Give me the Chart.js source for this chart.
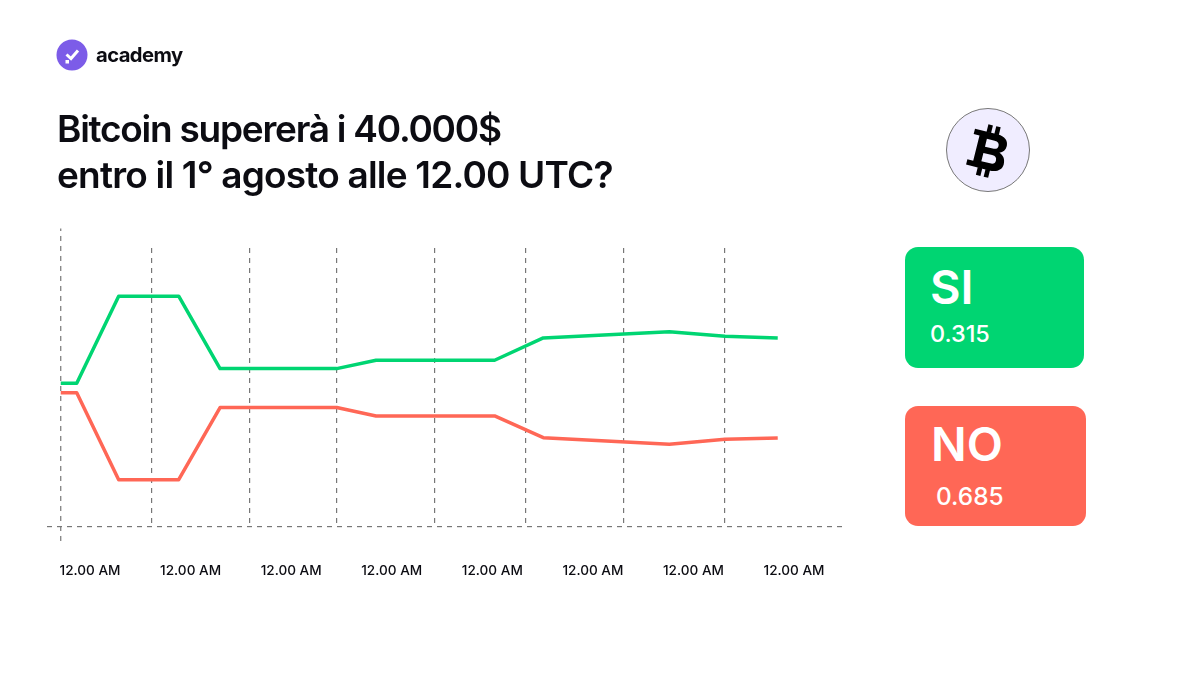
<!DOCTYPE html>
<html lang="it"><head><meta charset="utf-8">
<script src="https://cdn.jsdelivr.net/npm/chart.js@4"></script>
<style>
html,body{margin:0;padding:0;background:#fff;width:1200px;height:675px;overflow:hidden;font-family:Inter,sans-serif;color:#0c0c12}
#c{position:absolute;left:0;top:0;width:1200px;height:675px}
.abs{position:absolute;white-space:nowrap}
h1{margin:0;left:57px;top:106px;font-size:37px;line-height:46px;font-weight:600;letter-spacing:-.8px}
h1 span{letter-spacing:-1.25px}
.brand{left:96px;top:41px;font-size:20.2px;line-height:28px;font-weight:700;letter-spacing:-.55px}
.card{border-radius:13px;color:#fff}
.big{font-weight:600;line-height:1}
.small{font-weight:500;line-height:1}
.coin{left:946px;top:108px;width:82px;height:82px;border:1px solid #777;border-radius:50%;background:#f0edff}
</style></head><body>
<canvas id="c" width="1200" height="675"></canvas>
<svg class="abs" style="left:56px;top:39px" width="32" height="32" viewBox="0 0 32 32"><circle cx="16" cy="16" r="15.5" fill="#7c5ce8"/><path d="M10.5 15.5l4.5 4 7-8" fill="none" stroke="#fff" stroke-width="3"/><rect x="9.5" y="21" width="3.5" height="3.5" fill="#fff"/></svg>
<div class="abs brand">academy</div>
<h1 class="abs"><span>Bitcoin supererà i 40.000$</span><br>entro il 1° agosto alle 12.00 UTC?</h1>
<div class="abs coin"></div>
<svg class="abs" style="left:948px;top:111px" width="80" height="80" viewBox="-40 -40 80 80"><g transform="rotate(14)"><path fill="#000" fill-rule="evenodd" d="M-18,-18.5 H5 C13,-18.5 17,-14.5 17,-9.5 C17,-5.5 15,-2.5 11.5,-1 C16,0.5 18.5,4 18.5,9 C18.5,15 13.5,18.5 6,18.5 H-18 V13 H-12 V-13 H-18 Z M-4,-11.5 V-3.5 H4 C7.5,-3.5 9,-5 9,-7.5 C9,-10 7.5,-11.5 4,-11.5 Z M-4,3 V11.5 H5 C8.5,11.5 10,10 10,7.2 C10,4.5 8.5,3 5,3 Z"/><rect x="-6" y="-26" width="4.6" height="8"/><rect x="2" y="-26" width="4.6" height="8"/><rect x="-6" y="18" width="4.6" height="8"/><rect x="2" y="18" width="4.6" height="8"/></g></svg>
<div class="abs card" style="left:905px;top:247px;width:179px;height:121px;background:#00d572"></div>
<div class="abs big" style="left:930px;top:263px;font-size:47px;color:#fff">SI</div>
<div class="abs small" style="left:930px;top:322px;font-size:23.4px;color:#fff">0.315</div>
<div class="abs card" style="left:905px;top:406px;width:181px;height:120px;background:#ff6756"></div>
<div class="abs big" style="left:931px;top:420px;font-size:47px;color:#fff">NO</div>
<div class="abs small" style="left:936px;top:484px;font-size:24.4px;color:#fff">0.685</div>
<script>
const tickLabels = ['12.00 AM','12.00 AM','12.00 AM','12.00 AM','12.00 AM','12.00 AM','12.00 AM','12.00 AM'];
const labelDays = [0,1,2,3,4,5,6,7];
const gridDays = [0.616,1.591,2.453,3.430,4.335,5.307,6.314];
const startDay = [-0.291];
const axisEnds = [-0.052,1.07];
const pointDays = [-0.291,-0.132,0.285,0.882,1.293,2.453,2.844,4.023,4.507,5.760,6.314,6.838];
const siValues = [0.514,0.514,0.827,0.827,0.567,0.567,0.597,0.597,0.677,0.699,0.683,0.677];
const noValues = [0.480,0.480,0.168,0.168,0.427,0.427,0.397,0.397,0.319,0.295,0.313,0.318];
const zip = (xs, ys) => xs.map((x, i) => ({x, y: ys[i]}));
const gridColor = '#777777', dash = [5,5];
new Chart(document.getElementById('c'), {
  type: 'line',
  data: { datasets: [
    {label:'SI', data: zip(pointDays, siValues), borderColor:'#00d572', borderWidth:3.5, pointRadius:0, tension:0, borderJoinStyle:'round', xAxisID:'x', yAxisID:'y', order:1},
    {label:'NO', data: zip(pointDays, noValues), borderColor:'#ff6756', borderWidth:3.5, pointRadius:0, tension:0, borderJoinStyle:'round', xAxisID:'x', yAxisID:'y', order:2},
    {label:'start', data: zip([startDay[0],startDay[0]], axisEnds), borderColor:gridColor, borderWidth:1.2, borderDash:dash, pointRadius:0, clip:false, xAxisID:'x', yAxisID:'y', order:3}
  ]},
  options: {
    responsive:false, animation:false, devicePixelRatio:1,
    layout:{padding:{left:47,right:357,top:248,bottom:88.5}},
    plugins:{legend:{display:false},tooltip:{enabled:false},title:{display:false}},
    scales:{
      x:{type:'linear',position:'bottom',min:-0.4276,max:7.487,
        afterBuildTicks:s=>{s.ticks=gridDays.map(v=>({value:v}))},
        afterFit:s=>{s.height=0},
        ticks:{display:false},border:{display:false,dash:dash},
        grid:{color:gridColor,lineWidth:1.2,drawTicks:false}},
      x2:{type:'linear',position:'bottom',min:-0.4276,max:7.487,
        afterBuildTicks:s=>{s.ticks=labelDays.map(v=>({value:v}))},
        afterFit:s=>{s.height=60},
        border:{display:false},grid:{display:false,drawTicks:false},
        ticks:{autoSkip:false,maxRotation:0,padding:36,color:'#0c0c12',font:{family:'Inter',size:13.6,weight:'500'},
          callback:(v,i)=>tickLabels[i]}},
      y:{type:'linear',position:'left',min:0,max:1,
        afterBuildTicks:s=>{s.ticks=[{value:0}]},
        afterFit:s=>{s.width=0},
        ticks:{display:false},border:{display:false,dash:dash},
        grid:{color:gridColor,lineWidth:1.2,drawTicks:false}}
    }
  }
});
</script>
</body></html>
